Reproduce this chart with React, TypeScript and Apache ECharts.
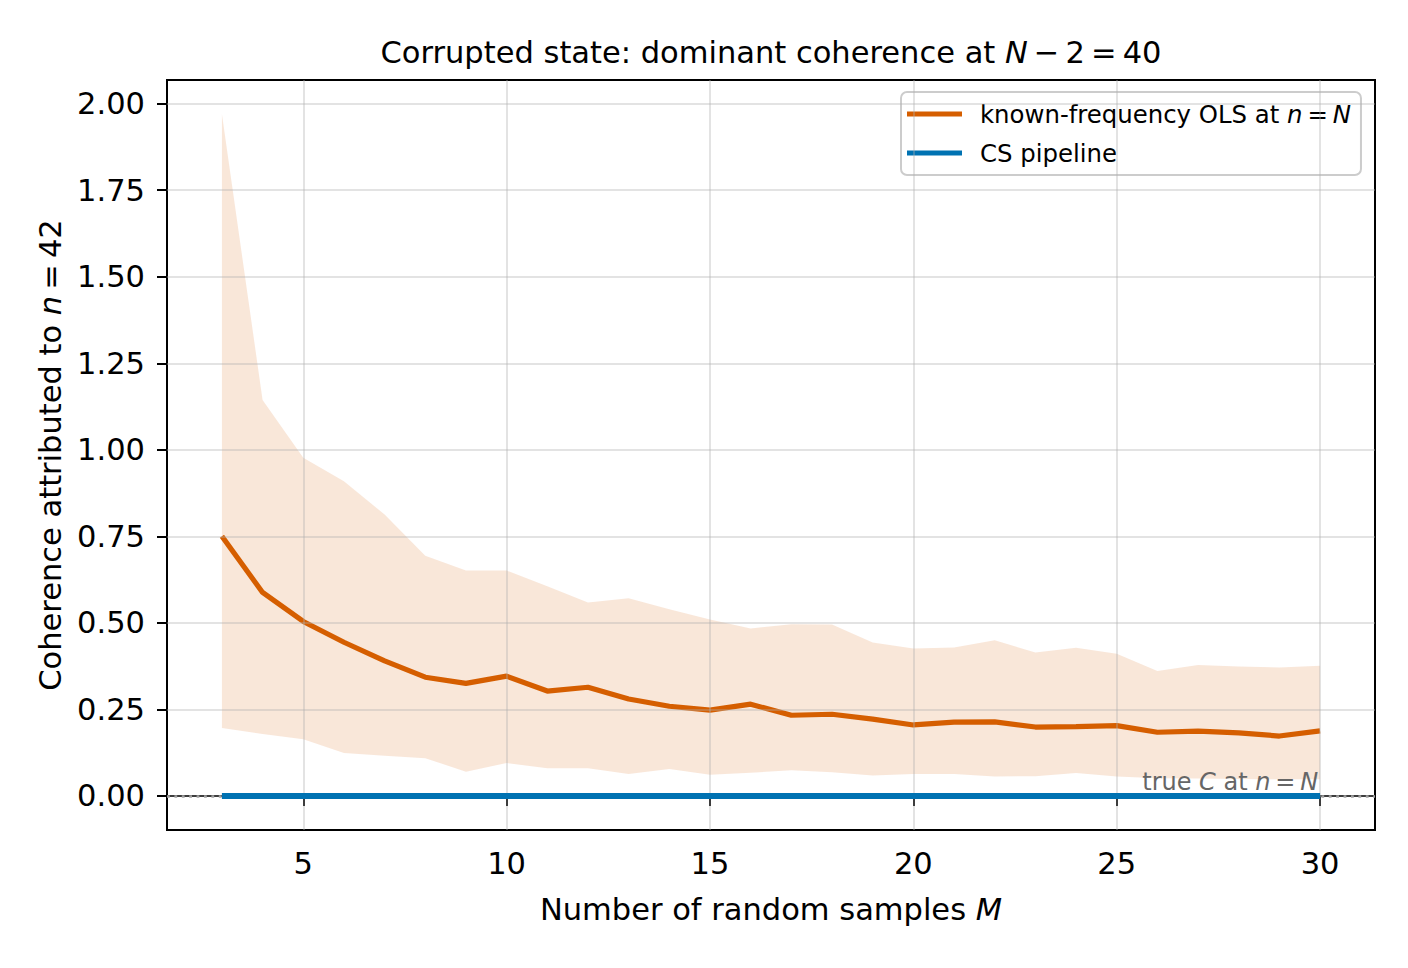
import React, { useEffect, useRef } from "react";
import * as echarts from "echarts";

const M = [3, 4, 5, 6, 7, 8, 9, 10, 11, 12, 13, 14, 15, 16, 17, 18, 19, 20, 21, 22, 23, 24, 25, 26, 27, 28, 29, 30];
const olsMean = [0.750, 0.588, 0.504, 0.444, 0.390, 0.343, 0.325, 0.346, 0.303, 0.314, 0.280, 0.259, 0.248, 0.265, 0.233, 0.236, 0.222, 0.205, 0.213, 0.214, 0.199, 0.200, 0.203, 0.184, 0.187, 0.182, 0.173, 0.188];
const olsUpper = [1.970, 1.144, 0.977, 0.909, 0.813, 0.694, 0.651, 0.651, 0.606, 0.559, 0.571, 0.539, 0.510, 0.484, 0.496, 0.495, 0.443, 0.426, 0.429, 0.450, 0.414, 0.428, 0.411, 0.361, 0.378, 0.374, 0.371, 0.376];
const olsLower = [0.196, 0.179, 0.164, 0.124, 0.116, 0.109, 0.070, 0.095, 0.080, 0.080, 0.063, 0.078, 0.061, 0.067, 0.074, 0.068, 0.059, 0.063, 0.063, 0.056, 0.057, 0.066, 0.056, 0.051, 0.050, 0.049, 0.048, 0.048];
const csPipeline = [0, 0, 0, 0, 0, 0, 0, 0, 0, 0, 0, 0, 0, 0, 0, 0, 0, 0, 0, 0, 0, 0, 0, 0, 0, 0, 0, 0];
const trueC = 0;
const xTicks = [5, 10, 15, 20, 25, 30];
const yTicks = [0, 0.25, 0.5, 0.75, 1.0, 1.25, 1.5, 1.75, 2.0];

const FONT = "DejaVu Sans";
const ORANGE = "#D55E00";
const BLUE = "#0072B2";
const FS = 30.5;
const TS = "\u2009"; // thin space, like mathtext operator spacing

export default function App() {
  const ref = useRef<HTMLDivElement>(null);
  useEffect(() => {
    if (!ref.current) return;
    const chart = echarts.init(ref.current, null, { renderer: "svg" });
    const pairs = (ys: number[]) => M.map((m, i) => [m, ys[i]]);
    const gridStyle = { color: "rgba(176,176,176,0.35)", width: 2, type: "solid" as const };
    const italic = { fontStyle: "italic", fontFamily: FONT };
    const olsName = "known-frequency OLS at n = N";
    const option: any = {
      animation: false,
      textStyle: { fontFamily: FONT },
      grid: {
        left: 167, top: 80, width: 1208, height: 750,
        show: true, borderColor: "#000", borderWidth: 2, backgroundColor: "transparent",
      },
      xAxis: {
        type: "value", min: 1.65, max: 31.35,
        axisLine: { lineStyle: { color: "#000", width: 2 } },
        axisTick: { show: true, customValues: xTicks, length: 10, lineStyle: { color: "#000", width: 2 } },
        axisLabel: { customValues: xTicks, margin: 18, color: "#000", fontSize: FS, fontFamily: FONT },
        splitLine: { show: false },
      },
      yAxis: {
        type: "value", min: -0.0985, max: 2.0685,
        axisLine: { show: true, lineStyle: { color: "#000", width: 2 } },
        axisTick: { show: true, customValues: yTicks, length: 10, lineStyle: { color: "#000", width: 2 } },
        axisLabel: { customValues: yTicks, margin: 22, color: "#000", fontSize: FS, fontFamily: FONT, formatter: (v: number) => v.toFixed(2) },
        splitLine: { show: false },
      },
      legend: {
        orient: "vertical", left: 901, top: 92,
        padding: [8, 10, 8, 6], itemGap: 11, itemWidth: 55, itemHeight: 5,
        backgroundColor: "rgba(255,255,255,0.8)", borderColor: "#cccccc", borderWidth: 2, borderRadius: 6,
        data: [
          { name: olsName, icon: "rect" },
          { name: "CS pipeline", icon: "rect" },
        ],
        formatter: (name: string) => name === olsName ? `known-frequency OLS at {i|n}${TS}={i|${TS}N}` : name,
        textStyle: {
          fontSize: 24.4, fontFamily: FONT, color: "#000", lineHeight: 28, padding: [0, 0, 0, 13],
          rich: { i: { ...italic, fontSize: 24.4, lineHeight: 28 } },
        },
      },
      series: [
        {
          name: "grid", type: "line", data: [], z: 1, silent: true,
          markLine: {
            silent: true, symbol: "none", label: { show: false }, lineStyle: gridStyle, animation: false,
            data: [...xTicks.map((v) => ({ xAxis: v })), ...yTicks.map((v) => ({ yAxis: v }))],
          },
        },
        {
          name: "band", type: "custom", z: 2, silent: true,
          data: M.map((m, i) => [m, olsLower[i], olsUpper[i]]),
          encode: { x: 0, y: [1, 2] },
          renderItem: (params: any, api: any) => {
            if (params.dataIndex !== 0) return null;
            const top = M.map((m, i) => api.coord([m, olsUpper[i]]));
            const bot = M.map((m, i) => api.coord([m, olsLower[i]])).reverse();
            return {
              type: "polygon",
              shape: { points: top.concat(bot) },
              style: { fill: "rgba(213,94,0,0.15)" },
            };
          },
        },
        {
          name: "zero", type: "line", data: [], z: 3, silent: true,
          markLine: {
            silent: true, symbol: "none", label: { show: false }, animation: false,
            lineStyle: { color: "#a0a0a0", width: 2.6, type: [2.8, 4.6] },
            data: [{ yAxis: trueC }],
          },
        },
        {
          name: olsName, type: "line", data: pairs(olsMean), symbol: "none", z: 4,
          color: ORANGE, lineStyle: { color: ORANGE, width: 5.2 },
        },
        {
          name: "CS pipeline", type: "line", data: pairs(csPipeline), symbol: "none", z: 5,
          color: BLUE, lineStyle: { color: BLUE, width: 6 },
        },
      ],
    };
    chart.setOption(option);
    const p = chart.convertToPixel({ gridIndex: 0 }, [M[M.length - 1], trueC]) as number[];
    const gx = 167 + 1208 / 2;
    chart.setOption({
      graphic: [
        {
          type: "text", x: gx, y: 52, z: 10,
          style: {
            text: `Corrupted state: dominant coherence at {i|N}${TS}−${TS}2${TS}=${TS}40`,
            rich: { i: { ...italic, fontSize: FS } },
            fontSize: FS, fontFamily: FONT, fill: "#000", textAlign: "center", textVerticalAlign: "middle",
          },
        },
        {
          type: "text", x: gx, y: 909, z: 10,
          style: {
            text: "Number of random samples {i|M}",
            rich: { i: { ...italic, fontSize: FS } },
            fontSize: FS, fontFamily: FONT, fill: "#000", textAlign: "center", textVerticalAlign: "middle",
          },
        },
        {
          type: "text", x: 50, y: 455, rotation: Math.PI / 2, z: 10,
          style: {
            text: `Coherence attributed to {i|n}${TS}=${TS}42`,
            rich: { i: { ...italic, fontSize: FS } },
            fontSize: FS, fontFamily: FONT, fill: "#000", textAlign: "center", textVerticalAlign: "middle",
          },
        },
        {
          type: "text", x: p[0] - 2, y: p[1] - 13.5, z: 10,
          style: {
            text: `true {i|C} at {i|n}${TS}=${TS}{i|N}`,
            rich: { i: { ...italic, fontSize: 24, fill: "#666" } },
            fontSize: 24, fontFamily: FONT, fill: "#666", textAlign: "right", textVerticalAlign: "middle",
          },
        },
      ],
    });
    return () => chart.dispose();
  }, []);
  return <div ref={ref} style={{ position: "absolute", left: 0, top: 0, width: 1408, height: 968 }} />;
}
